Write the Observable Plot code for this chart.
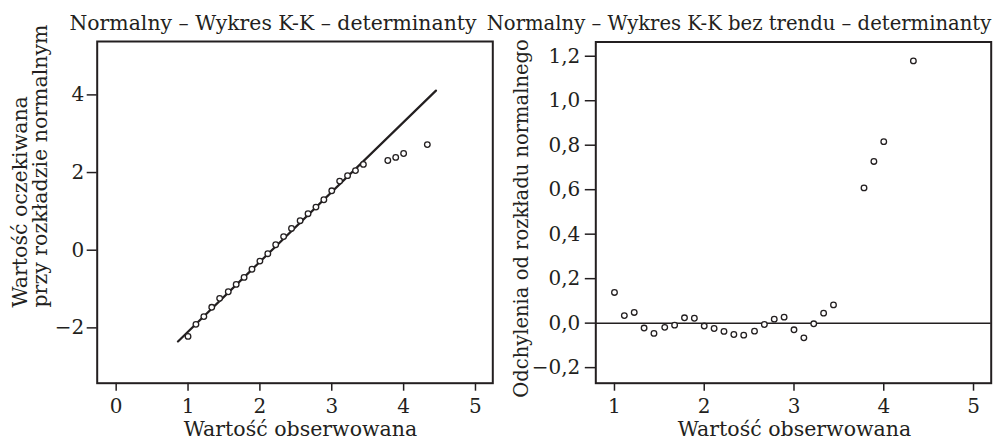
<!DOCTYPE html>
<html>
<head>
<meta charset="utf-8">
<script src="https://cdn.jsdelivr.net/npm/d3@7"></script>
<script src="https://cdn.jsdelivr.net/npm/@observablehq/plot@0.6"></script>
<style>
  body { margin: 0; background: #fff; }
  #wrap { position: relative; width: 994px; height: 441px; background: #fff; }
  #wrap svg { position: absolute; top: 0; }
</style>
</head>
<body>
<div id="wrap"></div>
<script>
// Observed values (x), shared by both panels
const observed = [1.00, 1.11, 1.22, 1.33, 1.44, 1.56, 1.67, 1.78, 1.89, 2.00, 2.11, 2.22, 2.33, 2.44, 2.56, 2.67, 2.78, 2.89, 3.00, 3.11, 3.22, 3.33, 3.44, 3.78, 3.89, 4.00, 4.33];
// Expected normal value (left panel y)
const expected = [-2.22, -1.91, -1.71, -1.47, -1.24, -1.07, -0.88, -0.70, -0.49, -0.28, -0.09, 0.14, 0.35, 0.56, 0.76, 0.94, 1.11, 1.30, 1.53, 1.78, 1.92, 2.05, 2.21, 2.31, 2.39, 2.49, 2.72];
// Deviation from normal (right panel y)
const deviation = [0.138, 0.034, 0.048, -0.022, -0.046, -0.019, -0.009, 0.024, 0.022, -0.013, -0.024, -0.037, -0.051, -0.054, -0.036, -0.006, 0.018, 0.027, -0.030, -0.066, -0.003, 0.045, 0.082, 0.608, 0.727, 0.816, 1.179];
// Reference line end points (left panel)
const lineX = [0.86, 4.45];
const lineY = [-2.35, 4.11];
// Zero reference (right panel)
const zeroLine = [0];

// Ticks
const leftXTicks = [0, 1, 2, 3, 4, 5];
const leftYTicks = [-2, 0, 2, 4];
const rightXTicks = [1, 2, 3, 4, 5];
const rightYTicks = [-0.2, 0.0, 0.2, 0.4, 0.6, 0.8, 1.0, 1.2];

// Texts
const leftTitle = "Normalny – Wykres K-K – determinanty";
const rightTitle = "Normalny – Wykres K-K bez trendu – determinanty";
const xLabel = "Wartość obserwowana";
const leftYLabel1 = "Wartość oczekiwana";
const leftYLabel2 = "przy rozkładzie normalnym";
const rightYLabel = "Odchylenia od rozkładu normalnego";

const ink = "#231f20";
const font = "DejaVu Serif";
const fs = 20;

const leftPts = observed.map((x, i) => ({x, y: expected[i]}));
const rightPts = observed.map((x, i) => ({x, y: deviation[i]}));
const linePts = lineX.map((x, i) => ({x, y: lineY[i]}));

const minus = s => s.replace("-", "\u2212");
const fmtInt = d => minus(String(d));
const fmtDec = d => minus(d.toFixed(1).replace(".", ","));

const style = {fontFamily: font, fontSize: fs + "px", color: ink, background: "transparent", overflow: "visible"};

const left = Plot.plot({
  width: 497, height: 441,
  marginLeft: 96.7, marginRight: 4.7, marginTop: 41, marginBottom: 58.3,
  style,
  x: {domain: [-0.264, 5.241]},
  y: {domain: [-3.425, 5.375]},
  marks: [
    Plot.axisX({ticks: leftXTicks, tickFormat: fmtInt, tickSize: 8, tickPadding: 7.5, strokeWidth: 1.5, label: null}),
    Plot.axisY({ticks: leftYTicks, tickFormat: fmtInt, tickSize: 10, tickPadding: 3, strokeWidth: 1.5, label: null}),
    Plot.line(linePts, {x: "x", y: "y", stroke: ink, strokeWidth: 2.2}),
    Plot.dot(leftPts, {x: "x", y: "y", r: 2.8, stroke: ink, strokeWidth: 1.3, fill: "white"}),
    Plot.frame({stroke: ink, strokeWidth: 2}),
    Plot.text([leftTitle], {text: d => d, frameAnchor: "top", dx: -22, dy: -18.3, lineAnchor: "middle", fill: ink, fontSize: 20.4}),
    Plot.text([xLabel], {text: d => d, frameAnchor: "bottom", dx: 5.5, dy: 46.6, lineAnchor: "middle", fill: ink, fontSize: 20.5}),
    Plot.text([leftYLabel1], {text: d => d, frameAnchor: "bottom-left", rotate: -90, textAnchor: "start", lineAnchor: "middle", dx: -76.6, dy: -75.7, fill: ink, fontSize: 20.5}),
    Plot.text([leftYLabel2], {text: d => d, frameAnchor: "bottom-left", rotate: -90, textAnchor: "start", lineAnchor: "middle", dx: -56.6, dy: -75.7, fill: ink, fontSize: 20.5})
  ]
});

const right = Plot.plot({
  width: 514, height: 441,
  marginLeft: 115.3, marginRight: 3.3, marginTop: 41.5, marginBottom: 58.3,
  style,
  x: {domain: [0.792, 5.197]},
  y: {domain: [-0.270, 1.264]},
  marks: [
    Plot.axisX({ticks: rightXTicks, tickFormat: fmtInt, tickSize: 8, tickPadding: 7.5, strokeWidth: 1.5, label: null}),
    Plot.axisY({ticks: rightYTicks, tickFormat: fmtDec, tickSize: 10.5, tickPadding: 5, strokeWidth: 1.5, label: null}),
    Plot.ruleY(zeroLine, {stroke: ink, strokeWidth: 1.5}),
    Plot.dot(rightPts, {x: "x", y: "y", r: 2.8, stroke: ink, strokeWidth: 1.3, fill: "white"}),
    Plot.frame({stroke: ink, strokeWidth: 2}),
    Plot.text([rightTitle], {text: d => d, frameAnchor: "top", dx: -54.5, dy: -18.3, lineAnchor: "middle", fill: ink, fontSize: 19.6}),
    Plot.text([xLabel], {text: d => d, frameAnchor: "bottom", dx: 1, dy: 46.6, lineAnchor: "middle", fill: ink, fontSize: 20.5}),
    Plot.text([rightYLabel], {text: d => d, frameAnchor: "left", rotate: -90, textAnchor: "middle", lineAnchor: "middle", dx: -74.2, dy: 5.9, fill: ink, fontSize: 19.5})
  ]
});

left.style.left = "0px";
right.style.left = "480px";
const wrap = document.getElementById("wrap");
wrap.appendChild(left);
wrap.appendChild(right);
</script>
</body>
</html>
